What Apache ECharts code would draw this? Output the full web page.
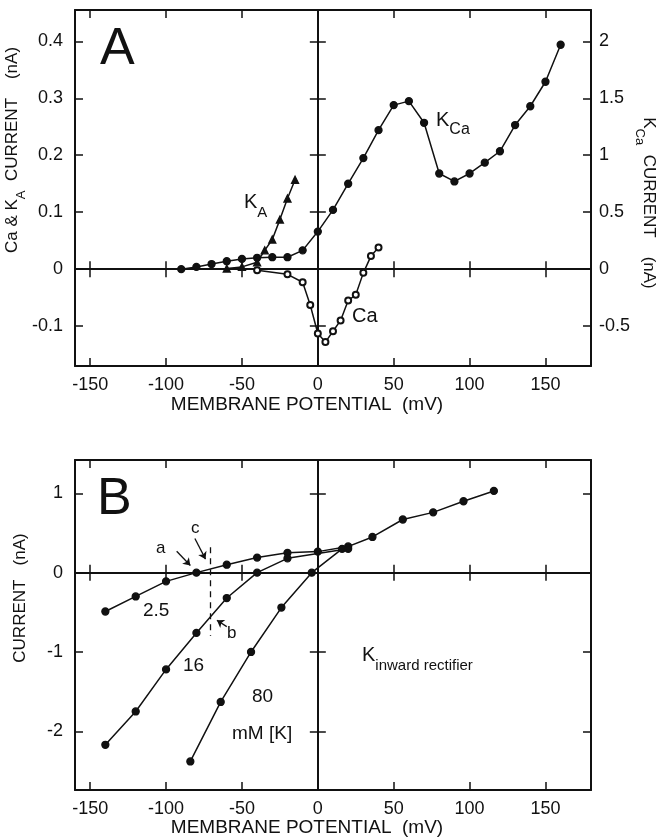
<!DOCTYPE html>
<html>
<head>
<meta charset="utf-8">
<script src="https://cdn.jsdelivr.net/npm/echarts@6/dist/echarts.min.js"></script>
<style>
  html, body { margin: 0; background: #fff; }
  #chart { width: 656px; height: 839px; }
</style>
</head>
<body>
<div id="chart"></div>
<script>
// tick values
const potentialTicks = [-150, -100, -50, 0, 50, 100, 150];
const potentialCross = [-150, -100, -50, 50, 100, 150];
const ticksCaKA = [-0.1, 0, 0.1, 0.2, 0.3, 0.4];
const crossCaKA = [-0.1, 0.1, 0.2, 0.3, 0.4];
const ticksKCa = [-0.5, 0, 0.5, 1, 1.5, 2];
const ticksB = [-2, -1, 0, 1];
const crossB = [-2, -1, 1];

// panel A
const kcaMV = [-90, -80, -70, -60, -50, -40, -30, -20, -10, 0, 10, 20, 30, 40, 50, 60, 70, 80, 90, 100, 110, 120, 130, 140, 150, 160];
const kcaNA = [0, 0.02, 0.045, 0.07, 0.09, 0.1, 0.105, 0.105, 0.165, 0.33, 0.52, 0.75, 0.975, 1.22, 1.44, 1.475, 1.285, 0.84, 0.77, 0.84, 0.935, 1.035, 1.265, 1.43, 1.645, 1.97];
const kaMV = [-60, -50, -40, -35, -30, -25, -20, -15];
const kaNA = [0.001, 0.004, 0.012, 0.033, 0.052, 0.087, 0.124, 0.157];
const caMV = [-40, -20, -10, -5, 0, 5, 10, 15, 20, 25, 30, 35, 40];
const caNA = [-0.002, -0.009, -0.023, -0.063, -0.113, -0.128, -0.109, -0.09, -0.055, -0.045, -0.0065, 0.023, 0.038];

// panel B, [K] in mM
const k25MV = [-140, -120, -100, -80, -60, -40, -20, 0, 20];
const k25NA = [-0.49, -0.3, -0.11, 0.0, 0.1, 0.19, 0.25, 0.265, 0.33];
const k16MV = [-140, -120, -100, -80, -60, -40, -20, 20];
const k16NA = [-2.17, -1.75, -1.22, -0.76, -0.32, 0.0, 0.18, 0.3];
const k80MV = [-84, -64, -44, -24, -4, 16, 36, 56, 76, 96, 116];
const k80NA = [-2.38, -1.63, -1.0, -0.44, 0.0, 0.3, 0.45, 0.67, 0.76, 0.9, 1.03];

const FONT = '"Liberation Sans", Arial, sans-serif';
const INK = '#111';

function zip(xs, ys) { return xs.map((x, i) => [x, ys[i]]); }

const gA = { left: 75, top: 10, width: 516, height: 356 };
const gB = { left: 75, top: 460, width: 516, height: 330 };
const yA = { min: -0.17, max: 0.455 };
const yB = { min: -2.74, max: 1.42 };

function frameX(grid, pos, labels) {
  return {
    type: 'value', gridIndex: grid, position: pos, min: -160, max: 180,
    axisLine: { onZero: false, lineStyle: { color: INK, width: 2 } },
    axisTick: { inside: true, length: 8, customValues: potentialTicks, lineStyle: { color: INK, width: 1.5 } },
    axisLabel: { show: labels, customValues: potentialTicks, color: INK, fontSize: 18, fontFamily: FONT, margin: 10 },
    splitLine: { show: false }
  };
}
function frameY(grid, pos, range, ticks, labels, margin) {
  return {
    type: 'value', gridIndex: grid, position: pos, min: range.min, max: range.max,
    axisLine: { onZero: false, lineStyle: { color: INK, width: 2 } },
    axisTick: { inside: true, length: 8, customValues: ticks, lineStyle: { color: INK, width: 1.5 } },
    axisLabel: { show: labels, customValues: ticks, color: INK, fontSize: 18, fontFamily: FONT, margin: margin },
    splitLine: { show: false }
  };
}
function zeroX(grid, inside) {
  return {
    type: 'value', gridIndex: grid, min: -160, max: 180,
    axisLine: { onZero: true, lineStyle: { color: INK, width: 2 } },
    axisTick: { inside: inside, length: 8, customValues: potentialCross, lineStyle: { color: INK, width: 1.5 } },
    axisLabel: { show: false }, splitLine: { show: false }
  };
}
function zeroY(grid, range, ticks, inside) {
  return {
    type: 'value', gridIndex: grid, min: range.min, max: range.max,
    axisLine: { onZero: true, lineStyle: { color: INK, width: 2 } },
    axisTick: { inside: inside, length: 8, customValues: ticks, lineStyle: { color: INK, width: 1.5 } },
    axisLabel: { show: false }, splitLine: { show: false }
  };
}

function lineSeries(name, xi, yi, data, symbol, size) {
  return {
    name: name, type: 'line', xAxisIndex: xi, yAxisIndex: yi, data: data,
    symbol: symbol, symbolSize: size, showSymbol: true,
    lineStyle: { color: INK, width: 1.5 },
    itemStyle: { color: INK, borderColor: INK, borderWidth: 1.3 },
    z: 5
  };
}

const arrowLines = {
  silent: true, symbol: ['none', 'arrow'], symbolSize: 7,
  lineStyle: { color: INK, width: 1.3, type: 'solid' }, label: { show: false },
  data: [
    [{ coord: [-93, 0.27] }, { coord: [-84, 0.09] }],
    [{ coord: [-81, 0.43] }, { coord: [-74, 0.17] }],
    [{ coord: [-60, -0.68] }, { coord: [-66.5, -0.6] }]
  ]
};
const dashLine = {
  silent: true, symbol: ['none', 'none'],
  lineStyle: { color: INK, width: 1.3, type: [6, 5] }, label: { show: false },
  data: [[{ coord: [-70.7, 0.32] }, { coord: [-70.7, -0.8] }]]
};

const s25 = lineSeries('2.5', 2, 2, zip(k25MV, k25NA), 'circle', 7);
s25.markLine = arrowLines;
const s16 = lineSeries('16', 2, 2, zip(k16MV, k16NA), 'circle', 7);
s16.markLine = dashLine;

function txt(x, y, text, size, align) {
  return {
    type: 'text', x: x, y: y,
    style: { text: text, fill: INK, font: size + 'px ' + FONT, textAlign: align || 'left', textVerticalAlign: 'top' }
  };
}
function subTxt(x, y, main, sub, size, subSize) {
  return {
    type: 'text', x: x, y: y,
    style: {
      text: '{k|' + main + '}{s|' + sub + '}', fill: INK, textAlign: 'left', textVerticalAlign: 'top',
      rich: {
        k: { fontSize: size, fontFamily: FONT, fill: INK, lineHeight: size + 8, verticalAlign: 'top' },
        s: { fontSize: subSize, fontFamily: FONT, fill: INK, lineHeight: size + 8, verticalAlign: 'bottom' }
      }
    }
  };
}
const nameRich = {
  t: { fontSize: 17, fontFamily: FONT, fill: INK, lineHeight: 24, verticalAlign: 'top' },
  s: { fontSize: 13, fontFamily: FONT, fill: INK, lineHeight: 24, verticalAlign: 'bottom' }
};
function vTxt(x, y, text, rot) {
  return {
    type: 'text', x: x, y: y, rotation: rot,
    style: { text: text, rich: nameRich, fill: INK, textAlign: 'center', textVerticalAlign: 'middle' }
  };
}

const chart = echarts.init(document.getElementById('chart'), null, { renderer: 'canvas' });
chart.setOption({
  animation: false,
  backgroundColor: '#fff',
  grid: [gA, gB, gA, gA, gB, gB].map(g => Object.assign({ containLabel: false }, g)),
  xAxis: [
    frameX(0, 'bottom', true), frameX(0, 'top', false),
    frameX(1, 'bottom', true), frameX(1, 'top', false),
    zeroX(2, true), zeroX(3, false), zeroX(4, true), zeroX(5, false)
  ],
  yAxis: [
    frameY(0, 'left', yA, ticksCaKA, true, 12),
    frameY(0, 'right', { min: yA.min * 5, max: yA.max * 5 }, ticksKCa, true, 8),
    frameY(1, 'left', yB, ticksB, true, 12),
    frameY(1, 'right', yB, ticksB, false, 8),
    zeroY(2, yA, crossCaKA, true), zeroY(3, yA, crossCaKA, false),
    zeroY(4, yB, crossB, true), zeroY(5, yB, crossB, false)
  ],
  series: [
    lineSeries('KCa', 0, 1, zip(kcaMV, kcaNA), 'circle', 7),
    lineSeries('KA', 0, 0, zip(kaMV, kaNA), 'triangle', 7),
    lineSeries('Ca', 0, 0, zip(caMV, caNA), 'emptyCircle', 6),
    s25, s16,
    lineSeries('80', 2, 2, zip(k80MV, k80NA), 'circle', 7)
  ],
  graphic: [
    txt(100, 24, 'A', 52),
    txt(97, 474, 'B', 52),
    subTxt(244, 192, 'K', 'A', 20, 15),
    subTxt(436, 110, 'K', 'Ca', 20, 16),
    txt(352, 306, 'Ca', 20),
    txt(143, 601, '2.5', 19),
    txt(183, 656, '16', 19),
    txt(252, 687, '80', 19),
    txt(232, 724, 'mM [K]', 19),
    txt(156, 540, 'a', 17),
    txt(191, 520, 'c', 17),
    txt(227, 625, 'b', 17),
    subTxt(362, 645, 'K', 'inward rectifier', 20, 15),
    txt(307, 395, 'MEMBRANE POTENTIAL  (mV)', 19, 'center'),
    txt(307, 818, 'MEMBRANE POTENTIAL  (mV)', 19, 'center'),
    vTxt(16, 150, '{t|Ca & K}{s|A}{t|  CURRENT    (nA)}', Math.PI / 2),
    vTxt(645, 203, '{t|K}{s|Ca}{t|  CURRENT    (nA)}', -Math.PI / 2),
    vTxt(24, 598, '{t|CURRENT   (nA)}', Math.PI / 2)
  ]
});
</script>
</body>
</html>
